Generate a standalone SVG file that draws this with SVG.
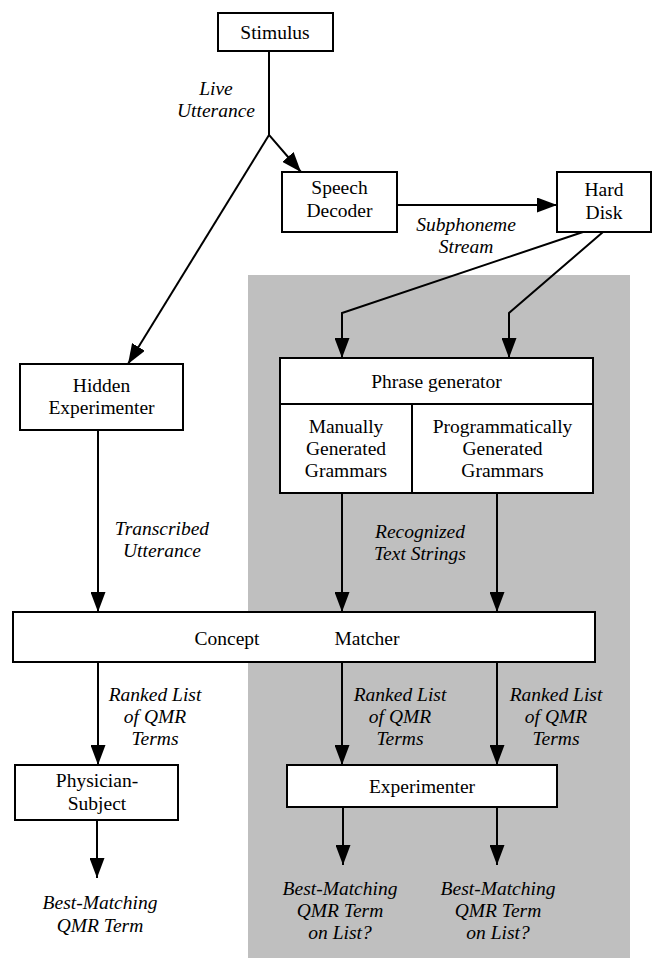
<svg xmlns="http://www.w3.org/2000/svg" width="654" height="958" viewBox="0 0 654 958">
<style>
.box{fill:#fff;stroke:#000;stroke-width:2}
.t{font-family:"Liberation Serif","Times New Roman",serif;font-size:19.5px;text-anchor:middle;fill:#000}
.i{font-family:"Liberation Serif","Times New Roman",serif;font-size:19.5px;font-style:italic;text-anchor:middle;fill:#000}
.c{fill:none;stroke:#000;stroke-width:2}
</style>
<defs>
<marker id="ah" markerUnits="userSpaceOnUse" markerWidth="20" markerHeight="15" refX="20" refY="7.5" orient="auto">
<path d="M0,0 L20,7.5 L0,15 z" fill="#000"/>
</marker>
</defs>
<rect id="shade" x="248" y="275" width="382" height="683" fill="#bfbfbf"/>
<g id="connectors">
<polyline class="c" points="269,51 269,135 301,172" marker-end="url(#ah)"/>
<line class="c" x1="269" y1="135" x2="128" y2="364" marker-end="url(#ah)"/>
<line class="c" x1="397" y1="205" x2="557" y2="205" marker-end="url(#ah)"/>
<polyline class="c" points="583,232 342,313 342,358" marker-end="url(#ah)"/>
<polyline class="c" points="603,232 509,313 509,358" marker-end="url(#ah)"/>
<line class="c" x1="98" y1="430" x2="98" y2="612" marker-end="url(#ah)"/>
<line class="c" x1="342" y1="493" x2="342" y2="612" marker-end="url(#ah)"/>
<line class="c" x1="497" y1="493" x2="497" y2="612" marker-end="url(#ah)"/>
<line class="c" x1="98" y1="662" x2="98" y2="765" marker-end="url(#ah)"/>
<line class="c" x1="342" y1="662" x2="342" y2="765" marker-end="url(#ah)"/>
<line class="c" x1="497" y1="662" x2="497" y2="765" marker-end="url(#ah)"/>
<line class="c" x1="97" y1="820" x2="97" y2="878" marker-end="url(#ah)"/>
<line class="c" x1="343" y1="807" x2="343" y2="865" marker-end="url(#ah)"/>
<line class="c" x1="497" y1="807" x2="497" y2="865" marker-end="url(#ah)"/>
</g>
<g id="labels">
<text class="i" x="216" y="95">Live</text>
<text class="i" x="216" y="117">Utterance</text>
<text class="i" x="466" y="231">Subphoneme</text>
<text class="i" x="466" y="253">Stream</text>
<text class="i" x="162" y="535">Transcribed</text>
<text class="i" x="162" y="557">Utterance</text>
<text class="i" x="420" y="538">Recognized</text>
<text class="i" x="420" y="560">Text Strings</text>
<text class="i" x="155" y="701">Ranked List</text>
<text class="i" x="155" y="723">of QMR</text>
<text class="i" x="155" y="745">Terms</text>
<text class="i" x="400" y="701">Ranked List</text>
<text class="i" x="400" y="723">of QMR</text>
<text class="i" x="400" y="745">Terms</text>
<text class="i" x="556" y="701">Ranked List</text>
<text class="i" x="556" y="723">of QMR</text>
<text class="i" x="556" y="745">Terms</text>
<text class="i" x="100" y="909">Best-Matching</text>
<text class="i" x="100" y="932">QMR Term</text>
<text class="i" x="340" y="895">Best-Matching</text>
<text class="i" x="340" y="917">QMR Term</text>
<text class="i" x="340" y="939">on List?</text>
<text class="i" x="498" y="895">Best-Matching</text>
<text class="i" x="498" y="917">QMR Term</text>
<text class="i" x="498" y="939">on List?</text>
</g>
<g id="stimulus">
<rect class="box" x="218" y="13" width="115" height="38"/>
<text class="t" x="275" y="39">Stimulus</text>
</g>
<g id="speech-decoder">
<rect class="box" x="282" y="172" width="115" height="60"/>
<text class="t" x="339.5" y="194">Speech</text>
<text class="t" x="339.5" y="217">Decoder</text>
</g>
<g id="hard-disk">
<rect class="box" x="557" y="172" width="94" height="60"/>
<text class="t" x="604" y="196">Hard</text>
<text class="t" x="604" y="219">Disk</text>
</g>
<g id="hidden-experimenter">
<rect class="box" x="20" y="364" width="163" height="66"/>
<text class="t" x="101.5" y="392">Hidden</text>
<text class="t" x="101.5" y="414">Experimenter</text>
</g>
<g id="phrase-generator">
<rect class="box" x="280" y="358" width="313" height="135"/>
<line class="c" x1="280" y1="404" x2="593" y2="404"/>
<line class="c" x1="412" y1="404" x2="412" y2="493"/>
<text class="t" x="436.5" y="388">Phrase generator</text>
<text class="t" x="346" y="433">Manually</text>
<text class="t" x="346" y="455">Generated</text>
<text class="t" x="346" y="477">Grammars</text>
<text class="t" x="502.5" y="433">Programmatically</text>
<text class="t" x="502.5" y="455">Generated</text>
<text class="t" x="502.5" y="477">Grammars</text>
</g>
<g id="concept-matcher">
<rect class="box" x="13" y="612" width="582" height="50"/>
<text class="t" x="227" y="645">Concept</text>
<text class="t" x="367" y="645">Matcher</text>
</g>
<g id="physician-subject">
<rect class="box" x="15" y="765" width="163" height="55"/>
<text class="t" x="97" y="787">Physician-</text>
<text class="t" x="97" y="810">Subject</text>
</g>
<g id="experimenter">
<rect class="box" x="287" y="765" width="270" height="42"/>
<text class="t" x="422" y="793">Experimenter</text>
</g>
</svg>
